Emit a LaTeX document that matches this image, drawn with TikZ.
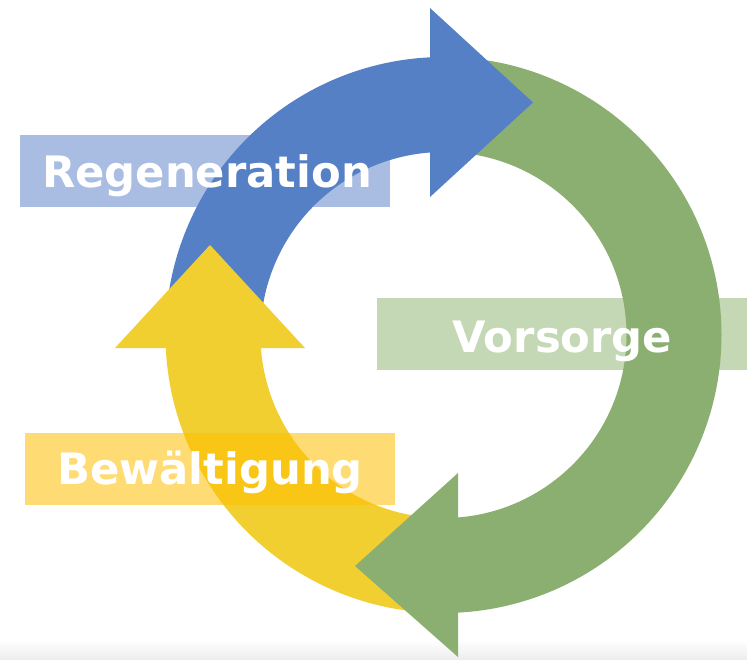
\documentclass[tikz,border=0pt]{standalone}
\usepackage{fontspec}
\setmainfont{DejaVu Sans}
\usetikzlibrary{calc}
\definecolor{arcblue}{RGB}{85,128,198}
\definecolor{arcgreen}{RGB}{139,175,112}
\definecolor{arcyellow}{RGB}{242,207,48}
\definecolor{boxblue}{RGB}{169,189,227}
\definecolor{boxgreen}{RGB}{197,216,181}
\definecolor{boxyellow}{RGB}{255,192,0}
\tikzset{
  labelbox/.style={draw=none, minimum width=370pt, minimum height=72pt, inner sep=0pt},
  labeltext/.style={text=white, font=\fontsize{43.3}{50}\selectfont\bfseries, inner sep=0pt, anchor=base},
}
\newcommand{\ringpart}[3]{% color, start, end
  \fill[#1] ($(C)+(#2:278)$) arc[start angle=#2, end angle=#3, radius=278]
     -- ($(C)+(#3:183)$) arc[start angle=#3, end angle=#2, radius=183] -- cycle;}
\begin{document}
\begin{tikzpicture}[x=1pt,y=-1pt]
\useasboundingbox (0,0) rectangle (747,659);
\fill[white] (0,0) rectangle (747,659);
\shade[top color=white, bottom color=black!7] (0,640) rectangle (747,659);
\coordinate (C) at (443.5,335);
% label boxes under the arcs
\node[labelbox, fill=boxblue] (bReg) at (205,171) {};
\node[labelbox, fill=boxgreen] (bVor) at (562,334) {};
% shafts
\begin{scope}
  \clip (0,0) -- (747,0) -- (747,659) -- (458,659) -- (458,335) -- (0,335) -- cycle;
  \ringpart{arcgreen}{-90}{95}
\end{scope}
\begin{scope}
  \clip (0,348) rectangle (747,659);
  \ringpart{arcyellow}{90}{185}
\end{scope}
\begin{scope}
  \clip (0,0) rectangle (430,659);
  \ringpart{arcblue}{178}{275}
\end{scope}
% heads
\fill[arcblue] (430,8) -- (533,102.5) -- (430,197) -- cycle;
\fill[arcgreen] (458,473) -- (355,566) -- (458,657) -- cycle;
\fill[arcyellow] (115,348) -- (210,245) -- (305,348) -- cycle;
% yellow label box (translucent, over the arc)
\node[labelbox, fill=boxyellow, fill opacity=0.55] (bBew) at (210,468.5) {};
% texts
\node[labeltext] (tReg) at (207,187) {Regeneration};
\node[labeltext] (tBew) at (210,484) {Bewältigung};
\node[labeltext] (tVor) at (562.5,352) {Vorsorge};
\end{tikzpicture}
\end{document}
